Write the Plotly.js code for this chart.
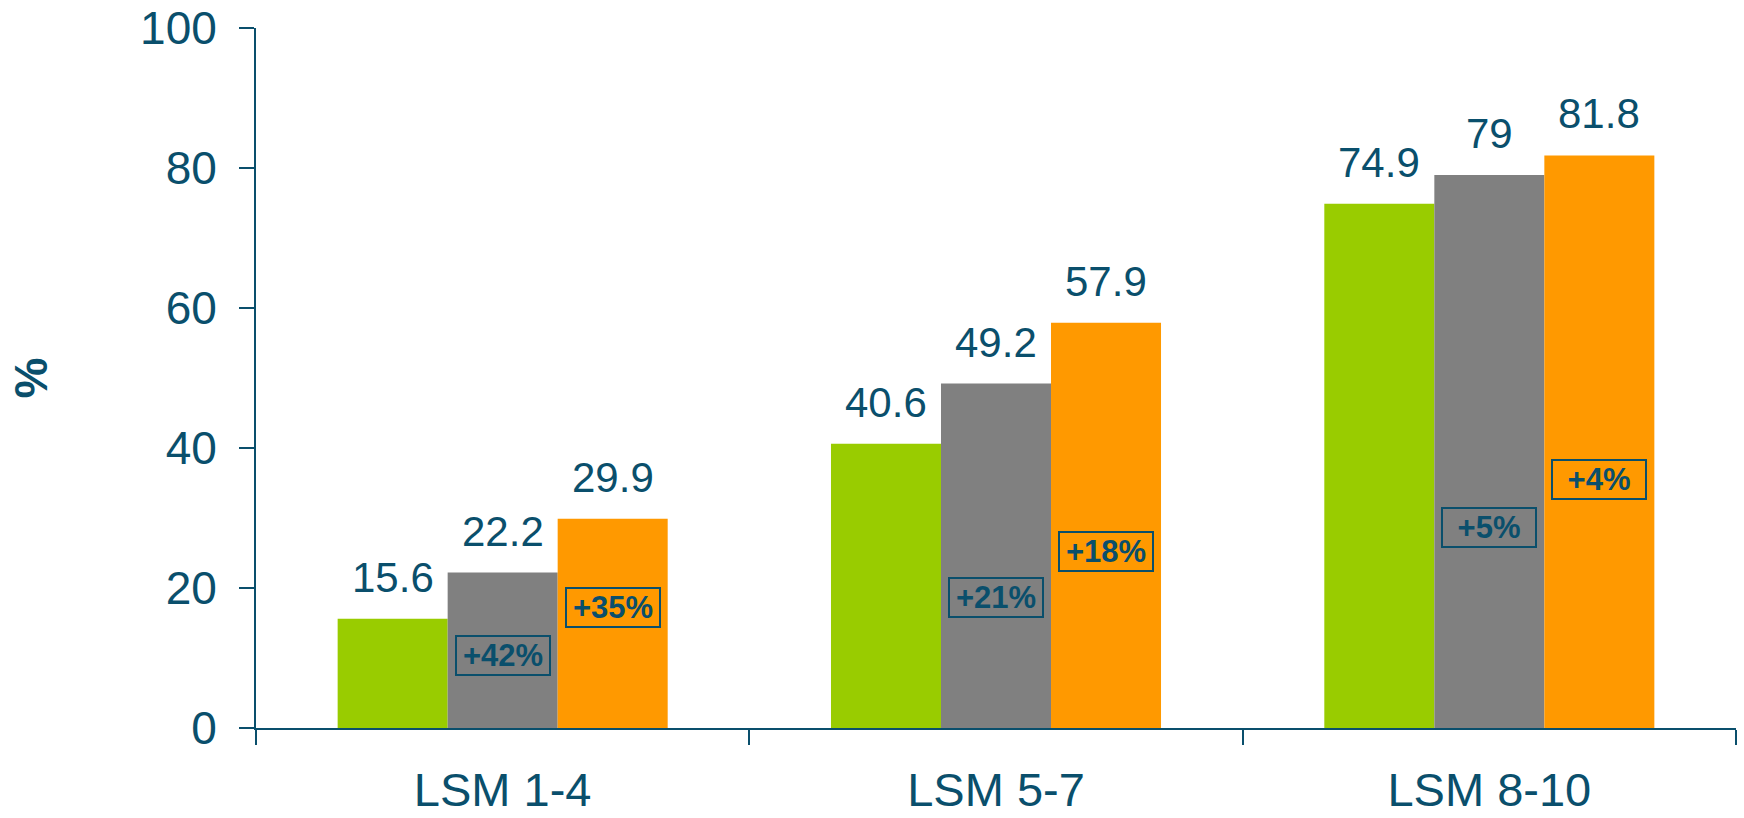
<!DOCTYPE html>
<html>
<head>
<meta charset="utf-8">
<script src="https://cdn.plot.ly/plotly-3.0.1.min.js"></script>
<style>html,body{margin:0;padding:0;background:#fff;}#chart{width:1744px;height:818px;}</style>
</head>
<body>
<div id="chart"></div>
<script>
const categories = ["LSM 1-4", "LSM 5-7", "LSM 8-10"];
const seriesA = [15.6, 40.6, 74.9];   // green
const seriesB = [22.2, 49.2, 79];     // grey
const seriesC = [29.9, 57.9, 81.8];   // orange
const changeB = ["+42%", "+21%", "+5%"];
const changeC = ["+35%", "+18%", "+4%"];
const changeBLabelY = [10.4, 18.6, 28.6];
const changeCLabelY = [17.2, 25.2, 35.5];
const yTicks = [0, 20, 40, 60, 80, 100];

const TEAL = "#0a4f6c";
const FONT = "Liberation Sans, Arial, sans-serif";
const colors = ["#99cc00", "#808080", "#ff9900"];
const series = [seriesA, seriesB, seriesC];
const BARPX = 110;

const traces = series.map((s, k) => ({
  type: "bar", x: categories, y: s, marker: {color: colors[k], line: {width: 0}},
  hoverinfo: "skip", showlegend: false
}));

const annotations = [];
series.forEach((s, k) => {
  s.forEach((v, i) => {
    annotations.push({
      x: categories[i], y: v, xref: "x", yref: "y", text: String(v),
      showarrow: false, yanchor: "bottom", xanchor: "center",
      xshift: (k - 1) * BARPX, yshift: 16,
      font: {family: FONT, size: 42, color: TEAL}
    });
  });
});
[[changeB, changeBLabelY, 0], [changeC, changeCLabelY, 1]].forEach(([txt, ys, k]) => {
  txt.forEach((t, i) => {
    annotations.push({
      x: categories[i], y: ys[i], xref: "x", yref: "y", text: "<b>" + t + "</b>",
      showarrow: false, xanchor: "center", yanchor: "middle",
      xshift: k * BARPX, width: 90, height: 35, borderpad: 1,
      bordercolor: TEAL, borderwidth: 2,
      font: {family: FONT, size: 31, color: TEAL}
    });
  });
});

const layout = {
  width: 1744, height: 818,
  margin: {l: 256, r: 8, t: 28, b: 90},
  paper_bgcolor: "#fff", plot_bgcolor: "#fff",
  barmode: "group", bargap: 0.331, bargroupgap: 0,
  font: {family: FONT, color: TEAL},
  xaxis: {
    type: "category", tickson: "boundaries", ticks: "outside", ticklen: 15, tickwidth: 2,
    tickcolor: TEAL, showline: true, linecolor: TEAL, linewidth: 2, showgrid: false,
    zeroline: false, tickfont: {family: FONT, size: 47, color: TEAL}, ticklabelstandoff: 20
  },
  yaxis: {
    range: [0, 100], tickvals: yTicks, ticks: "outside", ticklen: 15, tickwidth: 2,
    tickcolor: TEAL, showline: true, linecolor: TEAL, linewidth: 2, showgrid: false,
    zeroline: false, tickfont: {family: FONT, size: 46, color: TEAL}, ticklabelstandoff: 13,
    title: {text: "<b>%</b>", font: {family: FONT, size: 46, color: TEAL}, standoff: 78}
  },
  annotations: annotations
};

Plotly.newPlot("chart", traces, layout, {displayModeBar: false, staticPlot: true});
</script>
</body>
</html>
